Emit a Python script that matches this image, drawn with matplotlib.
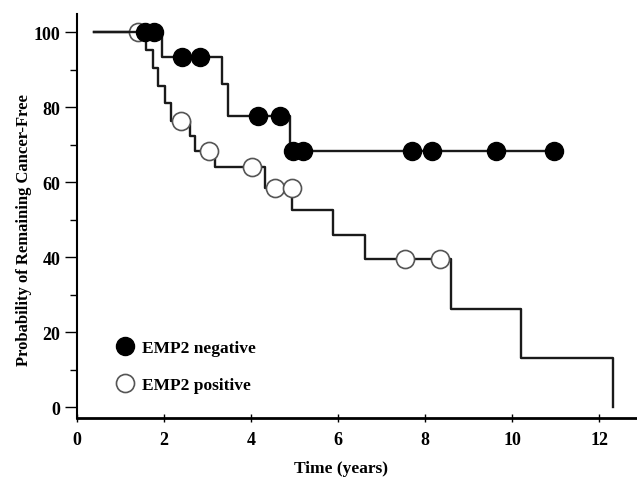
import matplotlib
matplotlib.use("Agg")
import matplotlib.pyplot as plt
from matplotlib.lines import Line2D

plt.rcParams["font.family"] = ["Liberation Serif", "DejaVu Serif"]
plt.rcParams["font.weight"] = "bold"

# --- data ---
# EMP2 negative (filled)
neg_t = [0.4, 1.95, 3.33, 3.47, 4.9, 10.97]
neg_s = [100, 93.3, 86.2, 77.6, 68.3, 68.3]
neg_cens_t = [1.56, 1.77, 2.41, 2.83, 4.16, 4.67, 4.97, 5.2, 7.7, 8.16, 9.63, 10.97]
neg_cens_s = [100, 100, 93.3, 93.3, 77.6, 77.6, 68.3, 68.3, 68.3, 68.3, 68.3, 68.3]

# EMP2 positive (open)
pos_t = [0.4, 1.59, 1.74, 1.87, 2.02, 2.16, 2.6, 2.71, 3.17, 4.32, 4.95,
         5.88, 6.62, 8.59, 10.2, 12.31]
pos_s = [100, 95.2, 90.5, 85.7, 81.0, 76.2, 72.3, 68.3, 64.0, 58.4, 52.5,
         46.0, 39.4, 26.3, 13.1, 0]
pos_cens_t = [1.40, 2.40, 3.03, 4.02, 4.55, 4.93, 7.54, 8.34]
pos_cens_s = [100, 76.2, 68.3, 64.0, 58.4, 58.4, 39.4, 39.4]

labels = ["EMP2 negative", "EMP2 positive"]

LINE = "#1a1a1a"
MS = 13

fig = plt.figure(figsize=(6.37, 4.85), dpi=100)
ax = fig.add_axes([0.121, 0.136, 0.879, 0.833])

# curves
ax.plot(pos_t, pos_s, drawstyle="steps-post", color=LINE, lw=1.7, zorder=2)
ax.plot(pos_cens_t, pos_cens_s, ls="none", marker="o", ms=MS, mfc="white",
        mec="#555555", mew=1.2, zorder=3)
ax.plot(neg_t, neg_s, drawstyle="steps-post", color=LINE, lw=1.7, zorder=4)
ax.plot(neg_cens_t, neg_cens_s, ls="none", marker="o", ms=MS, mfc="black",
        mec="black", mew=1.0, zorder=5)

ax.set_xlim(0, 12.87)
ax.set_ylim(-2.9, 104.8)

ax.spines["top"].set_visible(False)
ax.spines["right"].set_visible(False)
ax.spines["left"].set_linewidth(1.5)
ax.spines["bottom"].set_linewidth(2.0)

ax.set_xticks([0, 2, 4, 6, 8, 10, 12])
ax.set_yticks([0, 20, 40, 60, 80, 100])
ax.set_yticks([10, 30, 50, 70, 90], minor=True)
ax.tick_params(axis="x", direction="inout", length=6, width=1, labelsize=13, pad=6)
ax.tick_params(axis="y", which="major", direction="out", length=9, width=1, labelsize=13, pad=3)
ax.tick_params(axis="y", which="minor", direction="out", length=5, width=1)
for lab in ax.get_xticklabels() + ax.get_yticklabels():
    lab.set_fontweight("bold")

ax.set_xlabel("Time (years)", fontsize=12.5, fontweight="bold")
ax.xaxis.set_label_coords(0.472, -0.105)
ax.set_ylabel("Probability of Remaining Cancer-Free", fontsize=12,
              fontweight="bold")
ax.yaxis.set_label_coords(-0.08, 0.468)

handles = [
    Line2D([], [], ls="none", marker="o", ms=MS, mfc="black", mec="black"),
    Line2D([], [], ls="none", marker="o", ms=MS, mfc="white", mec="#555555", mew=1.2),
]
ax.legend(handles, labels, loc="center left", bbox_to_anchor=(0.07, 0.127),
          frameon=False, handlelength=1.0, handletextpad=0.5,
          labelspacing=1.2, borderpad=0, borderaxespad=0,
          prop={"weight": "bold", "size": 12.5})

fig.savefig("out.png", dpi=100)
